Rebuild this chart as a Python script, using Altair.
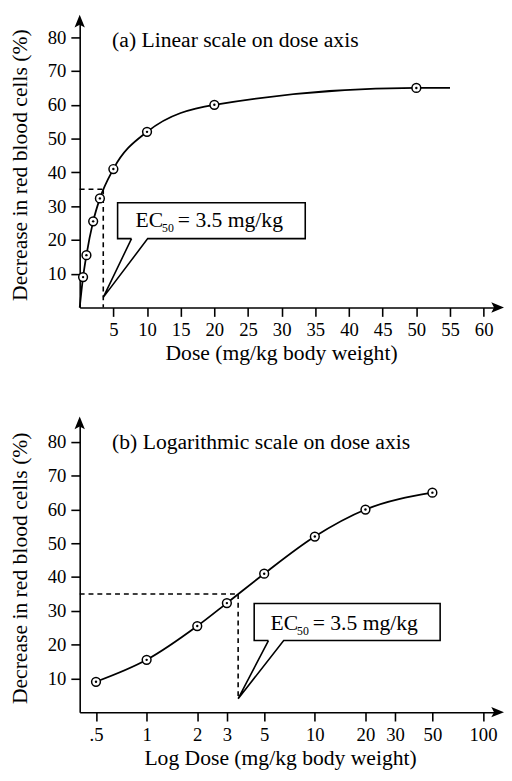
import altair as alt
import pandas as pd

# ---- data ----
dose = [0.5, 1, 2, 3, 5, 10, 20, 50]
decrease = [9, 15.5, 25.5, 32.3, 41, 52, 60, 65]
curve_start = (0, 0)      # linear panel: fitted curve starts at origin
curve_end = (55, 65)      # and runs on flat to 55 mg/kg
ec50 = 3.5
ec50_response = 35

y_ticks = [10, 20, 30, 40, 50, 60, 70, 80]
x_ticks_lin = [5, 10, 15, 20, 25, 30, 35, 40, 45, 50, 55, 60]
x_ticks_log = [0.5, 1, 2, 3, 5, 10, 20, 30, 50, 100]

# callout geometry (data units)
callout_lin = dict(left=5.63, right=33.5, bottom=20.4, top=31.0, base_l=7.7, base_r=10.1, apex_y=3)
callout_log = dict(left=4.36, right=55.6, bottom=21.2, top=32.2, base_l=5.30, base_r=6.53, apex_y=4)
label_lin = dict(x=8.3, y=23.8)
label_log = dict(x=5.45, y=24.3)

FONT = "Liberation Serif"
TITLE_SIZE = 22
LABEL_SIZE = 19
W = 425
PX_Y = 3.44
YTOP_A = 84.6
YTOP_B = 85.5
H_A = round(YTOP_A * PX_Y)
H_B = round(YTOP_B * PX_Y)

ARROW_UP = "M0,-1L0.75,0.85L0,0.45L-0.75,0.85Z"
ARROW_RIGHT = "M1,0L-0.85,0.75L-0.45,0L-0.85,-0.75Z"


def y_axis():
    return alt.Axis(values=y_ticks, title="Decrease in red blood cells (%)",
                    titleFont=FONT, titleFontSize=TITLE_SIZE, titleFontWeight="normal", titleColor="black",
                    titlePadding=7, minExtent=42, maxExtent=42,
                    labelFont=FONT, labelFontSize=LABEL_SIZE, labelColor="black", labelPadding=5,
                    tickSize=9, tickWidth=1.6, tickColor="black",
                    domainColor="black", domainWidth=1.6, grid=False, labelOverlap=False)


def x_axis(values, title, label_expr=None, title_x=205):
    kw = dict(values=values, title=title, titleFont=FONT, titleFontSize=TITLE_SIZE, titleFontWeight="normal",
              titleColor="black", titlePadding=3, titleX=title_x,
              labelFont=FONT, labelFontSize=LABEL_SIZE, labelColor="black", labelPadding=5,
              tickSize=9, tickWidth=1.6, tickColor="black", domainColor="black",
              domainWidth=1.6, grid=False, labelOverlap=False, labelFlush=False)
    if label_expr:
        kw["labelExpr"] = label_expr
    return alt.Axis(**kw)


def panel(title_text, pts, curve, xscale, xaxis, ytop, height, x0, callout, label):
    yscale = alt.Scale(domain=[0, ytop], nice=False, zero=False)
    yaxis = y_axis()

    def X(f="x"):
        return alt.X(f"{f}:Q", scale=xscale, axis=xaxis)

    def Y(f="y"):
        return alt.Y(f"{f}:Q", scale=yscale, axis=yaxis)

    dashed = pd.DataFrame({
        "x": [x0, ec50], "x2": [ec50, ec50],
        "y": [ec50_response, ec50_response], "y2": [ec50_response, callout.get("dash_end", 0)],
    })
    dash_layer = alt.Chart(dashed).mark_rule(color="black", strokeWidth=1.6, strokeDash=[5, 4]).encode(
        x=X("x"), x2="x2:Q", y=Y("y"), y2="y2:Q")

    curve_layer = alt.Chart(curve).mark_line(color="black", strokeWidth=1.8, interpolate="monotone").encode(
        x=X(), y=Y())

    c = callout
    poly = pd.DataFrame({
        "x": [c["base_l"], c["left"], c["left"], c["right"], c["right"], c["base_r"], ec50, c["base_l"]],
        "y": [c["bottom"], c["bottom"], c["top"], c["top"], c["bottom"], c["bottom"], c["apex_y"], c["bottom"]],
        "o": list(range(8)),
    })
    callout_layer = alt.Chart(poly).mark_line(color="black", strokeWidth=1.6, strokeJoin="miter").encode(
        x=X(), y=Y(), order="o:Q")

    lab = pd.DataFrame({"x": [label["x"]], "y": [label["y"]]})
    t1 = alt.Chart(lab).mark_text(text="EC", font=FONT, fontSize=TITLE_SIZE, align="left",
                                  baseline="alphabetic", color="black").encode(x=X(), y=Y())
    t2 = alt.Chart(lab).mark_text(text="50", font=FONT, fontSize=12, align="left", baseline="alphabetic",
                                  dx=27, dy=5, color="black").encode(x=X(), y=Y())
    t3 = alt.Chart(lab).mark_text(text="= 3.5 mg/kg", font=FONT, fontSize=TITLE_SIZE, align="left",
                                  baseline="alphabetic", dx=43, color="black").encode(x=X(), y=Y())

    circles = alt.Chart(pts).mark_point(shape="circle", size=80, fill="white", fillOpacity=1, stroke="black",
                                        strokeWidth=1.5, opacity=1).encode(x=X(), y=Y())
    dots = alt.Chart(pts).mark_point(shape="circle", size=6, filled=True, color="black", opacity=1).encode(
        x=X(), y=Y())

    title = alt.Chart(pd.DataFrame({"t": [title_text]})).mark_text(
        font=FONT, fontSize=TITLE_SIZE, align="left", baseline="middle", color="black").encode(
        x=alt.value(33), y=alt.value(19), text="t:N")

    arrow_up = alt.Chart(pd.DataFrame({"a": [0]})).mark_point(
        shape=ARROW_UP, size=196, filled=True, color="black", opacity=1, strokeWidth=0).encode(
        x=alt.value(0), y=alt.value(0))
    arrow_right = alt.Chart(pd.DataFrame({"a": [0]})).mark_point(
        shape=ARROW_RIGHT, size=196, filled=True, color="black", opacity=1, strokeWidth=0).encode(
        x=alt.value(W), y=alt.value(height))

    return alt.layer(dash_layer, curve_layer, callout_layer, circles, dots, t1, t2, t3, title,
                     arrow_up, arrow_right).properties(width=W, height=height)


curve_lin = pd.DataFrame({"x": [curve_start[0]] + dose + [curve_end[0]],
                          "y": [curve_start[1]] + decrease + [curve_end[1]]})
curve_log = pd.DataFrame({"x": dose, "y": decrease})
pts = pd.DataFrame({"x": dose, "y": decrease})

callout_lin["dash_end"] = 0
callout_log["dash_end"] = callout_log["apex_y"]

top = panel("(a) Linear scale on dose axis", pts, curve_lin,
            alt.Scale(domain=[0, 62], nice=False, zero=False),
            x_axis(x_ticks_lin, "Dose (mg/kg body weight)", title_x=205),
            YTOP_A, H_A, 0, callout_lin, label_lin)

bottom = panel("(b) Logarithmic scale on dose axis", pts, curve_log,
               alt.Scale(type="log", domain=[0.4, 121.3], nice=False, zero=False),
               x_axis(x_ticks_log, "Log Dose (mg/kg body weight)",
                      label_expr="datum.value < 1 ? '.5' : format(datum.value, 'd')", title_x=204),
               YTOP_B, H_B, 0.4, callout_log, label_log)

chart = (alt.vconcat(top, bottom, spacing=54)
         .configure(font=FONT)
         .configure_view(stroke=None)
         .properties(padding=0))

chart.save("out.html", embed_options={"renderer": "svg", "actions": False})
